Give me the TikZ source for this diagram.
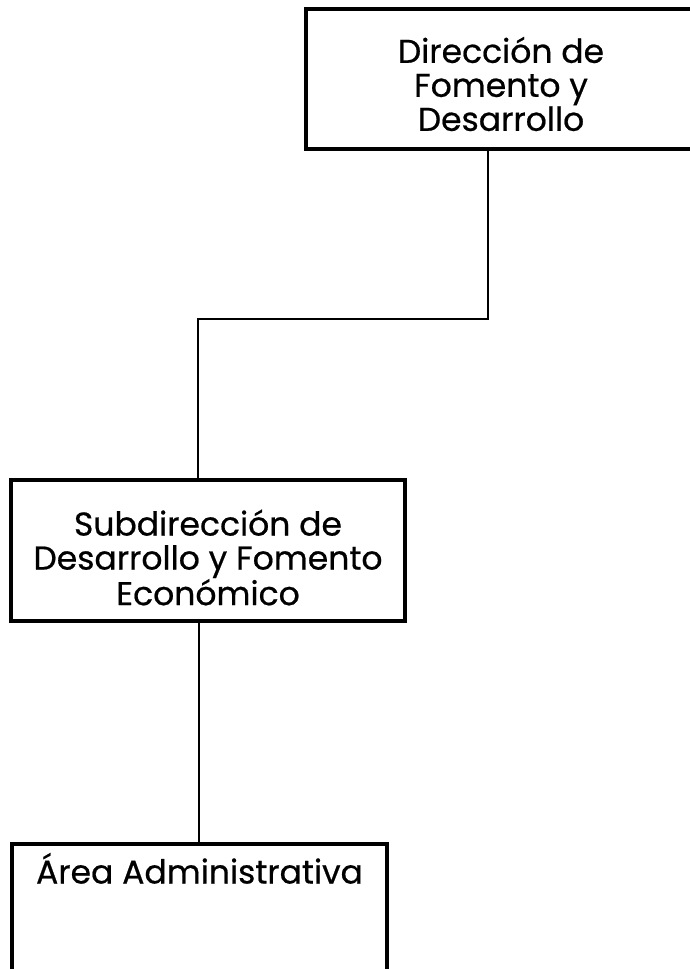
\documentclass[tikz,border=0pt]{standalone}
\usepackage{fontspec}
\setmainfont{Poppins}[FakeBold=0.6]

\begin{document}
\begin{tikzpicture}[x=1pt, y=-1pt]
\tikzset{caja/.style={draw, line width=4pt, rectangle, align=center, inner sep=0pt, font=\fontsize{33}{34}\selectfont}}
\tikzset{enlace/.style={draw, line width=2pt}}
\clip (0, 0) rectangle (690, 969);
% cajas
\node[caja, minimum width=390pt, minimum height=140pt] (Dir) at (501, 79) {\rule{0pt}{36pt}Dirección de\\Fomento y\\Desarrollo};
\node[caja, minimum width=394pt, minimum height=141pt] (Sub) at (208, 550.5) {\rule{0pt}{40pt}Subdirección de\\Desarrollo y Fomento\\Económico};
\node[caja, anchor=north, minimum width=375pt, text height=40pt, text depth=200pt] (Area) at (199.5, 841.5) {Área Administrativa};
% enlaces
\coordinate (Codo) at (198, 319);
\draw[enlace] ([xshift=-13pt]Dir.south) |- (Codo) -- ([xshift=-10pt]Sub.north);
\draw[enlace] ([xshift=-9pt]Sub.south) -- ([xshift=-9pt]Sub.south |- Area.north);
\end{tikzpicture}
\end{document}
